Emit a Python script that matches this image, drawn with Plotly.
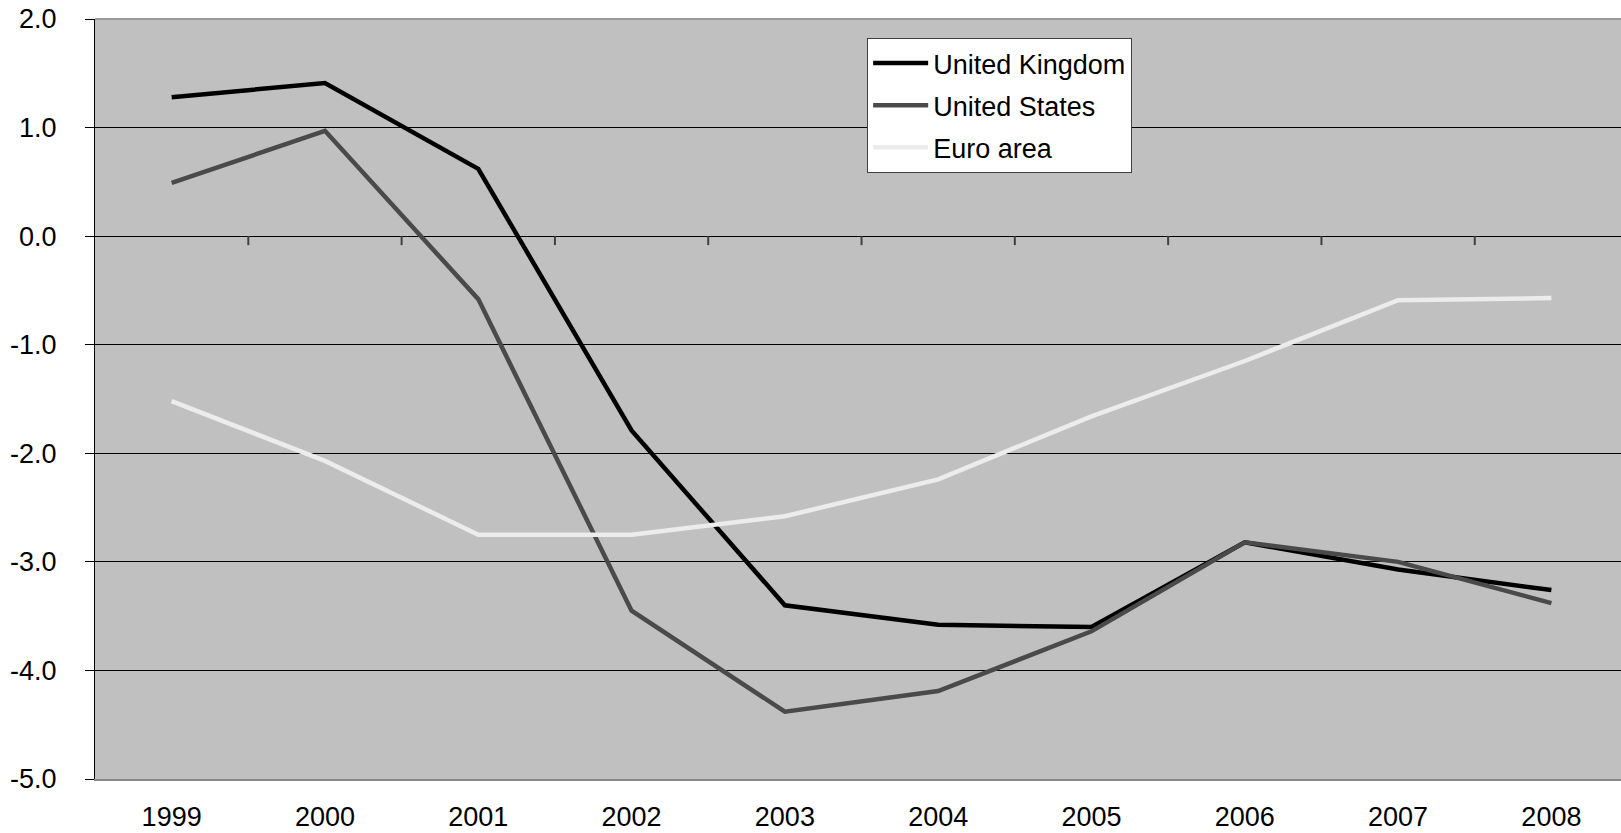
import plotly.graph_objects as go

# Annual values, percent
years = ["1999", "2000", "2001", "2002", "2003", "2004", "2005", "2006", "2007", "2008"]
united_kingdom = [1.28, 1.41, 0.62, -1.79, -3.40, -3.58, -3.60, -2.82, -3.07, -3.26]
united_states = [0.49, 0.97, -0.58, -3.45, -4.38, -4.19, -3.64, -2.82, -3.00, -3.38]
euro_area = [-1.52, -2.07, -2.75, -2.75, -2.58, -2.24, -1.66, -1.15, -0.59, -0.57]

y_ticks = [2, 1, 0, -1, -2, -3, -4, -5]
y_tick_text = ["2.0", "1.0", "0.0", "-1.0", "-2.0", "-3.0", "-4.0", "-5.0"]

series = [
    ("United Kingdom", united_kingdom, "#000000"),
    ("United States", united_states, "#4a4a4a"),
    ("Euro area", euro_area, "#ececec"),
]

FONT = "Liberation Sans, Arial, sans-serif"
FSIZE = 27

fig = go.Figure()
for i, (name, vals, color) in enumerate(series):
    fig.add_trace(go.Scatter(
        x=years, y=vals, name=name, mode="lines",
        line=dict(color=color, width=4.5),
        legendgroup=f"g{i}",
    ))

# category boundary ticks sitting on the zero line
for i in range(len(years) - 1):
    fig.add_shape(
        type="line", xref="x", yref="y",
        x0=i + 0.5, x1=i + 0.5,
        ysizemode="pixel", yanchor=0, y0=0, y1=-9,
        line=dict(color="#404040", width=2),
    )

# top frame edge
fig.add_shape(
    type="line", xref="paper", yref="paper",
    x0=0, x1=1, y0=1, y1=1,
    line=dict(color="#9a9a9a", width=2),
)

fig.update_layout(
    width=1621, height=833,
    margin=dict(l=95, r=0, t=19, b=54, pad=0),
    paper_bgcolor="white",
    plot_bgcolor="#c0c0c0",
    font=dict(family=FONT, size=FSIZE, color="#000000"),
    showlegend=True,
    legend=dict(
        x=0.506, y=0.975, xanchor="left", yanchor="top",
        bgcolor="white", bordercolor="#404040", borderwidth=1,
        font=dict(family=FONT, size=FSIZE, color="#000000"),
        traceorder="grouped", tracegroupgap=4,
        itemwidth=55,
    ),
    xaxis=dict(
        type="category",
        range=[-0.5, 9.454],
        showgrid=False,
        zeroline=False,
        ticks="",
        showline=True, linecolor="#888888", linewidth=2,
        tickfont=dict(family=FONT, size=FSIZE, color="#000000"),
        ticklabelstandoff=13,
    ),
    yaxis=dict(
        range=[-5, 2],
        tickvals=y_ticks, ticktext=y_tick_text,
        showgrid=True, gridcolor="#000000", gridwidth=1,
        zeroline=True, zerolinecolor="#000000", zerolinewidth=1,
        ticks="outside", ticklen=9, tickcolor="#000000", tickwidth=1,
        showline=True, linecolor="#000000", linewidth=1,
        tickfont=dict(family=FONT, size=FSIZE, color="#000000"),
        ticklabelstandoff=23,
    ),
)

fig.write_html("out.html")
